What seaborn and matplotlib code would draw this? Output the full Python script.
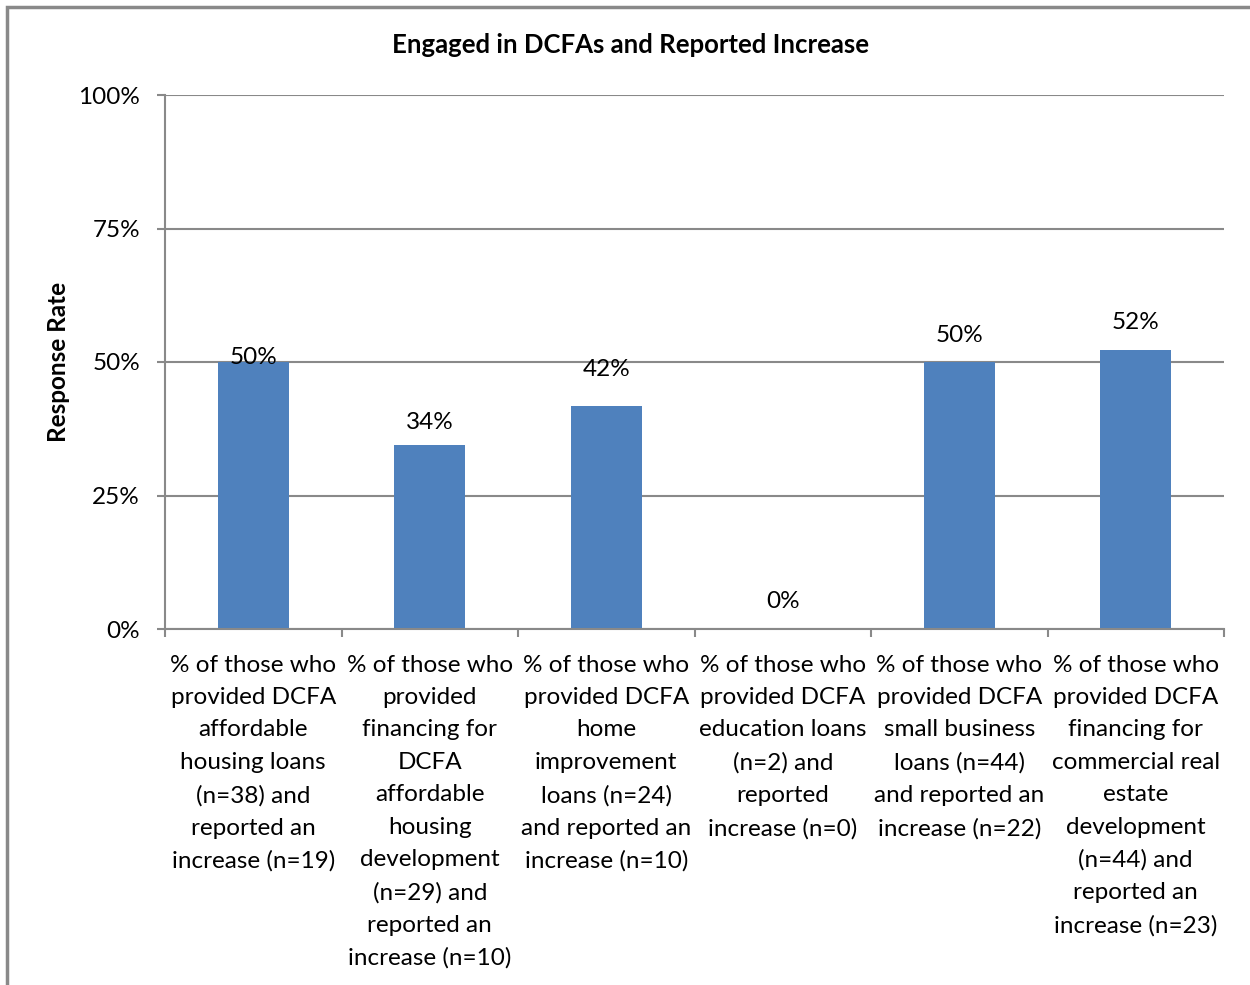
import matplotlib
matplotlib.use("Agg")
import matplotlib.pyplot as plt
from matplotlib.patches import Rectangle
from matplotlib.ticker import FixedLocator, FuncFormatter
import seaborn as sns
import pandas as pd

# Category labels (wrapped as they appear under each bar)
categories = [
    "% of those who\nprovided DCFA\naffordable\nhousing loans\n(n=38) and\nreported an\nincrease (n=19)",
    "% of those who\nprovided\nfinancing for\nDCFA\naffordable\nhousing\ndevelopment\n(n=29) and\nreported an\nincrease (n=10)",
    "% of those who\nprovided DCFA\nhome\nimprovement\nloans (n=24)\nand reported an\nincrease (n=10)",
    "% of those who\nprovided DCFA\neducation loans\n(n=2) and\nreported\nincrease (n=0)",
    "% of those who\nprovided DCFA\nsmall business\nloans (n=44)\nand reported an\nincrease (n=22)",
    "% of those who\nprovided DCFA\nfinancing for\ncommercial real\nestate\ndevelopment\n(n=44) and\nreported an\nincrease (n=23)",
]
# Share reporting an increase, in percent
response_rate = [50.0, 34.48, 41.67, 0.0, 50.0, 52.27]
y_ticks = [0, 25, 50, 75, 100]

# Vertical nudge of each value label above its bar, in pixels
label_offsets = [4, 22, 37, 27, 27, 27]

sns.set_style("white")
plt.rcParams["font.family"] = ["Lato", "DejaVu Sans"]
plt.rcParams["text.color"] = "black"
plt.rcParams["axes.labelcolor"] = "black"

BAR = "#4F81BD"
GRID = "#898989"
FS = 17.5

fig = plt.figure(figsize=(12.5, 9.85), dpi=100)
ax = fig.add_axes([165 / 1250, 1 - 629 / 985, (1224 - 165) / 1250, (629 - 95) / 985])

df = pd.DataFrame({"category": categories, "rate": response_rate})
sns.barplot(data=df, x="category", y="rate", color=BAR, width=0.4,
            saturation=1, ax=ax, edgecolor="none")

ax.set_ylim(0, 100)
ax.set_xlim(-0.5, len(categories) - 0.5)

# Horizontal gridlines and axis styling
ax.yaxis.set_major_locator(FixedLocator(y_ticks))
ax.yaxis.set_major_formatter(FuncFormatter(lambda v, p: f"{v:.0f}%"))
ax.grid(axis="y", color=GRID, linewidth=1.5)
ax.grid(axis="x", visible=False)
ax.set_axisbelow(True)
for side in ["top", "right"]:
    ax.spines[side].set_visible(False)
for side in ["left", "bottom"]:
    ax.spines[side].set_color(GRID)
    ax.spines[side].set_linewidth(1.5)

ax.tick_params(axis="y", which="major", left=True, length=6, width=1.5,
               color=GRID, labelsize=FS, pad=12, labelcolor="black")

# Category boundary ticks on the x axis, labels centred under each bar
ax.xaxis.set_minor_locator(FixedLocator([i - 0.5 for i in range(len(categories) + 1)]))
ax.tick_params(axis="x", which="minor", bottom=True, length=6, width=1.5, color=GRID)
ax.tick_params(axis="x", which="major", bottom=False, labelsize=FS, pad=15,
               labelcolor="black")
for lbl in ax.get_xticklabels():
    lbl.set_linespacing(1.67)
    lbl.set_verticalalignment("top")

ax.set_xlabel("")
ax.set_ylabel("Response Rate", fontsize=FS, fontweight="bold", color="black")
ax.yaxis.label.set_verticalalignment("center")
ax.yaxis.set_label_coords((58 - 165) / 1059, 0.5)

# Value labels
for i, (v, off) in enumerate(zip(response_rate, label_offsets)):
    ax.annotate(f"{v:.0f}%", xy=(i, v), xytext=(0, off), textcoords="offset pixels",
                ha="center", va="center", fontsize=FS, color="black")

fig.text(630 / 1250, 1 - 45 / 985, "Engaged in DCFAs and Reported Increase",
         ha="center", va="center", fontsize=18.5, fontweight="bold", color="black")

# Chart-area border
fig.patches.append(Rectangle((7 / 1250, -0.05), 1.1, 1 - 7 / 985 + 0.05,
                             transform=fig.transFigure, fill=False,
                             edgecolor=GRID, linewidth=2.5))

fig.savefig("out.png", dpi=100, facecolor="white")
